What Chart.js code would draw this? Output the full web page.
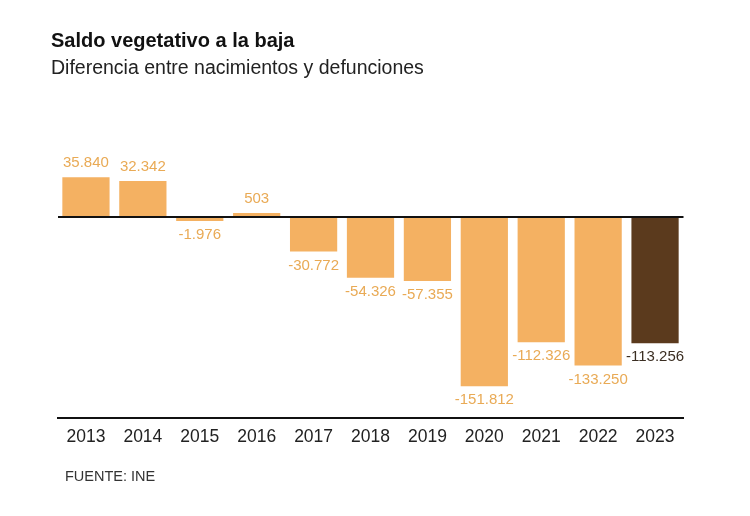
<!DOCTYPE html>
<html>
<head>
<meta charset="utf-8">
<script src="https://cdn.jsdelivr.net/npm/chart.js@4/dist/chart.umd.min.js"></script>
<style>
  html, body { margin: 0; padding: 0; background: #fff; }
  #wrap { position: relative; width: 750px; height: 516px; overflow: hidden; }
  #chart { position: absolute; left: 0; top: 0; }
  .title { position: absolute; left: 51px; top: 29px; font: bold 20px "Liberation Sans", Arial, sans-serif; color: #111; }
  .subtitle { position: absolute; left: 51px; top: 56px; font: 300 19.5px "Liberation Sans", Arial, sans-serif; color: #222; }
  .source { position: absolute; left: 65px; top: 468px; font: 14.5px "Liberation Sans", Arial, sans-serif; color: #333; }
</style>
</head>
<body>
<div id="wrap">
  <canvas id="chart" width="750" height="516"></canvas>
  <div class="title">Saldo vegetativo a la baja</div>
  <div class="subtitle">Diferencia entre nacimientos y defunciones</div>
  <div class="source">FUENTE: INE</div>
</div>
<script>
const years = ['2013', '2014', '2015', '2016', '2017', '2018', '2019', '2020', '2021', '2022', '2023'];
const saldo = [35840, 32342, -1976, 503, -30772, -54326, -57355, -151812, -112326, -133250, -113256];
const barColors = ['#f4b162', '#f4b162', '#f4b162', '#f4b162', '#f4b162', '#f4b162', '#f4b162', '#f4b162', '#f4b162', '#f4b162', '#5b3a1d'];
const labelColors = ['#e9aa55', '#e9aa55', '#e9aa55', '#e9aa55', '#e9aa55', '#e9aa55', '#e9aa55', '#e9aa55', '#e9aa55', '#e9aa55', '#3b2e22'];

// miles con punto, como en el original
function fmt(v) {
    const s = String(Math.abs(v)).replace(/\B(?=(\d{3})+(?!\d))/g, '.');
    return (v < 0 ? '-' : '') + s;
}

const valueLabels = {
    id: 'valueLabels',
    afterDatasetsDraw(chart) {
        const ctx = chart.ctx;
        const meta = chart.getDatasetMeta(0);
        ctx.save();
        ctx.font = '15px "Liberation Sans", Arial, sans-serif';
        ctx.textAlign = 'center';
        ctx.textBaseline = 'middle';
        meta.data.forEach((bar, i) => {
            const v = saldo[i];
            ctx.fillStyle = labelColors[i];
            const y = v >= 0 ? bar.y - 14 : bar.y + 14;
            ctx.fillText(fmt(v), bar.x, y);
        });
        ctx.restore();
    }
};

new Chart(document.getElementById('chart'), {
    type: 'bar',
    data: {
        labels: years,
        datasets: [{
            data: saldo,
            backgroundColor: barColors,
            borderWidth: 0,
            barPercentage: 0.83,
            categoryPercentage: 1,
            minBarLength: 4
        }]
    },
    options: {
        responsive: false,
        animation: false,
        layout: { padding: { left: 57.5, right: 66.5, top: 161.4, bottom: 58.3 } },
        plugins: {
            legend: { display: false },
            tooltip: { enabled: false }
        },
        scales: {
            x: {
                grid: { display: false, drawTicks: false },
                border: { display: true, color: '#111', width: 2 },
                ticks: {
                    color: '#222',
                    font: { family: '"Liberation Sans", Arial, sans-serif', size: 17.5 },
                    padding: 9,
                    maxRotation: 0
                },
                afterFit(scale) { scale.height = 40; }
            },
            y: {
                min: -180000,
                max: 50000,
                ticks: { display: false, stepSize: 10000 },
                border: { display: false },
                grid: {
                    drawTicks: false,
                    color: (c) => c.tick && c.tick.value === 0 ? '#111' : 'rgba(0,0,0,0)',
                    lineWidth: (c) => c.tick && c.tick.value === 0 ? 2 : 0
                }
            }
        }
    },
    plugins: [valueLabels]
});
</script>
</body>
</html>
